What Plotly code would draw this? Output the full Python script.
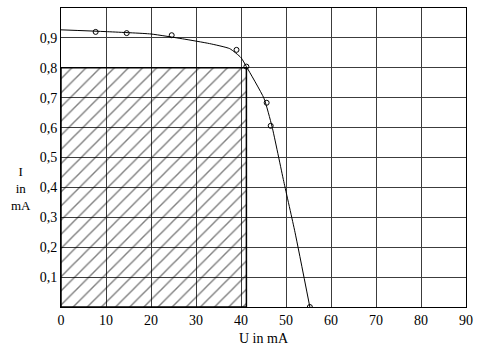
import plotly.graph_objects as go

# measured points (U in mA, I in mA)
meas_u = [7.7, 14.6, 24.6, 39.0, 41.2, 45.7, 46.6, 55.3]
meas_i = [0.920, 0.916, 0.909, 0.860, 0.804, 0.683, 0.606, 0.0]

# fitted curve
curve_u = [0, 10, 20, 27, 33, 37.5, 40.0, 41.2, 45.1, 46.9, 49.5, 52.0, 55.3]
curve_i = [0.927, 0.921, 0.913, 0.897, 0.881, 0.864, 0.834, 0.804, 0.698, 0.603, 0.42, 0.25, 0.0]

# hatched working region
hatch_u = 41.2
hatch_i = 0.8

x_ticks = [0, 10, 20, 30, 40, 50, 60, 70, 80, 90]
x_labels = ["0", "10", "20", "30", "40", "50", "60", "70", "80", "90"]
y_ticks = [0.1, 0.2, 0.3, 0.4, 0.5, 0.6, 0.7, 0.8, 0.9]
y_labels = ["0,1", "0,2", "0,3", "0,4", "0,5", "0,6", "0,7", "0,8", "0,9"]

L, R, T, B = 61, 18, 8, 46
W, H = 484, 353
pw, ph = W - L - R, H - T - B

fig = go.Figure()

fig.add_trace(go.Scatter(
    x=[0, 0, hatch_u, hatch_u, 0], y=[0, hatch_i, hatch_i, 0, 0],
    mode="lines", fill="toself",
    fillcolor="rgba(0,0,0,0)",
    fillpattern=dict(shape="/", size=10, solidity=0.14, fgcolor="black",
                     bgcolor="rgba(0,0,0,0)"),
    line=dict(color="black", width=1.5),
    hoverinfo="skip", showlegend=False,
))

fig.add_trace(go.Scatter(
    x=curve_u, y=curve_i, mode="lines",
    line=dict(color="black", width=1, shape="spline", smoothing=0.5),
    showlegend=False,
))

fig.add_trace(go.Scatter(
    x=meas_u, y=meas_i, mode="markers",
    marker=dict(symbol="circle-open", size=5, color="black", line=dict(width=1)),
    showlegend=False,
))

fam = "Liberation Serif"
font = dict(family=fam, size=14, color="black")

fig.update_layout(
    width=W, height=H,
    margin=dict(l=L, r=R, t=T, b=B, autoexpand=False),
    paper_bgcolor="white", plot_bgcolor="white",
    font=font,
    xaxis=dict(range=[0, 90], tickvals=x_ticks, ticktext=x_labels,
               showgrid=True, gridcolor="#3c3c3c", gridwidth=1,
               showline=True, linecolor="black", linewidth=1, mirror=True,
               zeroline=False, ticks="", tickfont=font, automargin=False,
               title=dict(text="U in mA", font=dict(family=fam, size=14, color="black"), standoff=6)),
    yaxis=dict(range=[0, 1.0], tickvals=y_ticks, ticktext=y_labels,
               showgrid=True, gridcolor="#3c3c3c", gridwidth=1,
               showline=True, linecolor="black", linewidth=1, mirror=True,
               zeroline=False, ticks="", tickfont=font, automargin=False),
    annotations=[dict(text="I<br>in<br>mA", xref="paper", yref="paper",
                      x=(21 - L) / pw, y=(H - B - 188) / ph,
                      xanchor="center", yanchor="middle",
                      showarrow=False, font=dict(family=fam, size=13, color="black"),
                      align="center")],
)

fig.write_html("out.html", config={"displayModeBar": False},
               post_script="document.body.style.margin='0';document.body.style.overflow='hidden';")
